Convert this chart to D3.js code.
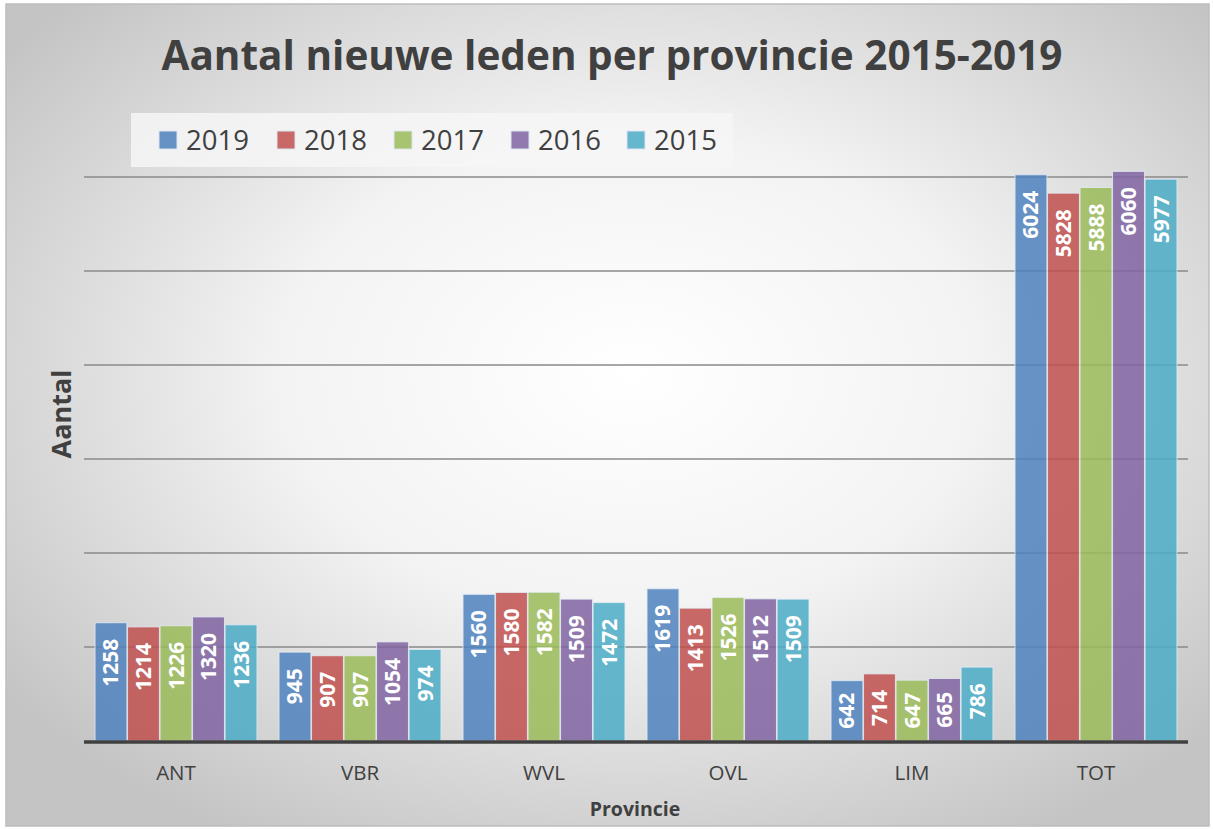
<!DOCTYPE html>
<html>
<head>
<meta charset="utf-8">
<script src="https://cdn.jsdelivr.net/npm/d3@7"></script>
<style>
  body { margin: 0; background: #fff; }
  text { font-family: "Open Sans", sans-serif; }
</style>
</head>
<body>
<div id="chart"></div>
<script>
// data
var provinces = ["ANT", "VBR", "WVL", "OVL", "LIM", "TOT"];
var years = ["2019", "2018", "2017", "2016", "2015"];
var v2019 = [1258, 945, 1560, 1619, 642, 6024];
var v2018 = [1214, 907, 1580, 1413, 714, 5828];
var v2017 = [1226, 907, 1582, 1526, 647, 5888];
var v2016 = [1320, 1054, 1509, 1512, 665, 6060];
var v2015 = [1236, 974, 1472, 1509, 786, 5977];
var yTicks = [0, 1000, 2000, 3000, 4000, 5000, 6000];

var series = [v2019, v2018, v2017, v2016, v2015];
var colors = ["#4f81bd", "#c0504d", "#9bbb59", "#8064a2", "#4bacc6"];

var W = 1213, H = 829;
var margin = {left: 84, right: 25, top: 177, bottom: 88};

var svg = d3.select('#chart').append('svg')
  .attr('width', W)
  .attr('height', H);

// background gradient
var defs = svg.append('defs');
var grad = defs.append('radialGradient')
  .attr('id', 'bg')
  .attr('cx', '52%').attr('cy', '45%').attr('r', '65%');
grad.append('stop').attr('offset', '0%').attr('stop-color', '#ffffff');
grad.append('stop').attr('offset', '45%').attr('stop-color', '#f3f3f3');
grad.append('stop').attr('offset', '100%').attr('stop-color', '#c4c4c4');

svg.append('rect')
  .attr('x', 6).attr('y', 4)
  .attr('width', W - 10).attr('height', H - 7)
  .attr('fill', 'url(#bg)')
  .attr('stroke', '#bdbdbd')
  .attr('stroke-width', 1.5);

var x0 = d3.scaleBand()
  .domain(provinces)
  .range([margin.left, W - margin.right])
  .paddingInner(0.12)
  .paddingOuter(0.06);

var x1 = d3.scaleBand()
  .domain(years)
  .range([0, x0.bandwidth()])
  .paddingInner(0.02);

var y = d3.scaleLinear()
  .domain([0, 6000])
  .range([H - margin.bottom, margin.top]);

// gridlines
svg.append('g')
  .selectAll('line')
  .data(yTicks.slice(1))
  .enter().append('line')
  .attr('x1', margin.left)
  .attr('x2', W - margin.right)
  .attr('y1', function (d) { return y(d); })
  .attr('y2', function (d) { return y(d); })
  .attr('stroke', '#8a8a8a')
  .attr('stroke-width', 1.5);

// bars
var groups = svg.append('g')
  .selectAll('g')
  .data(series)
  .enter().append('g')
  .attr('fill', function (d, i) { return colors[i]; });

groups.each(function (vals, si) {
  var g = d3.select(this);
  var bx = function (d, i) { return x0(provinces[i]) + x1(years[si]); };

  g.selectAll('rect')
    .data(vals)
    .enter().append('rect')
    .attr('x', bx)
    .attr('y', function (d) { return y(d); })
    .attr('width', x1.bandwidth())
    .attr('height', function (d) { return y(0) - y(d); })
    .attr('fill-opacity', 0.85)
    .attr('stroke', '#e4ecf4')
    .attr('stroke-opacity', 0.8)
    .attr('stroke-width', 1);

  g.selectAll('text')
    .data(vals)
    .enter().append('text')
    .attr('transform', function (d, i) {
      var cx = bx(d, i) + x1.bandwidth() / 2;
      var h = y(0) - y(d);
      var len = String(d).length * 12;
      var ty = (h > len + 30) ? y(d) + 16 : y(d) + (h - len) / 2;
      return 'translate(' + (cx + 7.5) + ',' + ty + ') rotate(-90)';
    })
    .attr('text-anchor', 'end')
    .attr('fill', '#ffffff')
    .attr('font-size', 21)
    .attr('font-weight', 'bold')
    .text(function (d) { return d; });
});

// baseline
svg.append('line')
  .attr('x1', margin.left)
  .attr('x2', W - margin.right)
  .attr('y1', y(0) + 1)
  .attr('y2', y(0) + 1)
  .attr('stroke', '#404040')
  .attr('stroke-width', 3.5);

// category axis
var xAxis = d3.axisBottom(x0).tickSize(0).tickPadding(0);
var gx = svg.append('g')
  .attr('transform', 'translate(0,' + (y(0) + 39) + ')')
  .call(xAxis);
gx.select('.domain').remove();
gx.selectAll('text')
  .attr('font-size', 20.5)
  .attr('fill', '#404040')
  .attr('font-family', '"Open Sans", sans-serif')
  .attr('dy', 0);

// title
svg.append('text')
  .attr('x', 612)
  .attr('y', 70)
  .attr('text-anchor', 'middle')
  .attr('font-size', 40.5)
  .attr('font-weight', 'bold')
  .attr('fill', '#404040')
  .text('Aantal nieuwe leden per provincie 2015-2019');

// axis titles
svg.append('text')
  .attr('transform', 'translate(71,414) rotate(-90)')
  .attr('text-anchor', 'middle')
  .attr('font-size', 27)
  .attr('font-weight', 'bold')
  .attr('fill', '#404040')
  .text('Aantal');

svg.append('text')
  .attr('x', 635)
  .attr('y', 816)
  .attr('text-anchor', 'middle')
  .attr('font-size', 19.5)
  .attr('font-weight', 'bold')
  .attr('fill', '#404040')
  .text('Provincie');

// legend
var legend = svg.append('g');
legend.append('rect')
  .attr('x', 131).attr('y', 113)
  .attr('width', 602).attr('height', 54)
  .attr('fill', '#f6f6f6')
  .attr('fill-opacity', 0.85);

var lx = [159, 277, 394, 511, 627];
var items = legend.selectAll('g')
  .data(years)
  .enter().append('g')
  .attr('transform', function (d, i) { return 'translate(' + lx[i] + ',0)'; });
items.append('rect')
  .attr('x', 0).attr('y', 131)
  .attr('width', 18).attr('height', 18)
  .attr('fill', function (d, i) { return colors[i]; })
  .attr('fill-opacity', 0.85)
  .attr('stroke', '#dde6f0');
items.append('text')
  .attr('x', 27).attr('y', 150)
  .attr('font-size', 27.5)
  .attr('fill', '#404040')
  .text(function (d) { return d; });
</script>
</body>
</html>
